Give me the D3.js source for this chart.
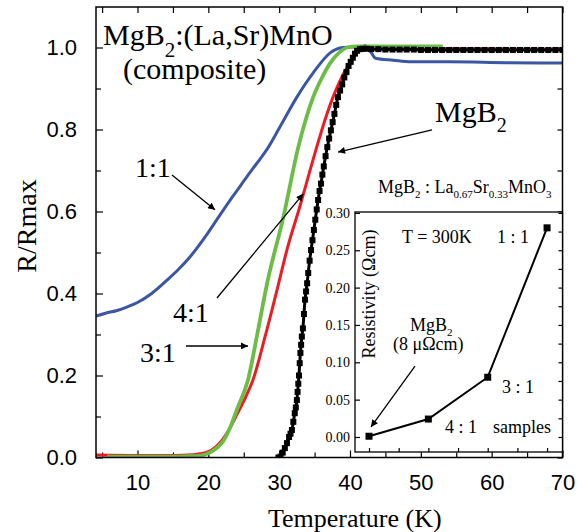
<!DOCTYPE html>
<html>
<head>
<meta charset="utf-8">
<script src="https://cdn.jsdelivr.net/npm/d3@7"></script>
<style>
body{margin:0;background:#fff}
</style>
</head>
<body>
<div id="grafico"></div>
<script>
//------------------ Datos ------------------

// 1:1 (azul)
const tempAzul = [4.14, 5.5, 7, 8.5, 10, 12, 14.2, 15.8, 17.4, 19.8, 21.2, 23.5, 25, 26.3, 27.3, 28.3, 30.1, 32.5, 34.8, 37.2, 39.0, 40.5, 41.7, 42.1, 42.9, 43.6, 46.1, 48.6, 54, 62, 70]
const rAzul    = [0.345, 0.352, 0.358, 0.367, 0.378, 0.400, 0.433, 0.459, 0.489, 0.544, 0.580, 0.638, 0.674, 0.705, 0.728, 0.752, 0.806, 0.879, 0.938, 0.987, 1.000, 1.001, 1.000, 1.005, 0.990, 0.974, 0.969, 0.965, 0.965, 0.963, 0.962]

// 4:1 (verde)
const tempVerde = [5.7, 10, 15, 18, 19.3, 20.5, 21.3, 22.1, 23.0, 24.1, 25.6, 26.9, 28.3, 30.6, 32.7, 34.8, 36.0, 37.2, 38.5, 39.6, 41, 45, 50, 53.1]
const rVerde    = [0.002, 0.002, 0.002, 0.003, 0.006, 0.015, 0.025, 0.040, 0.070, 0.120, 0.189, 0.300, 0.425, 0.587, 0.757, 0.879, 0.925, 0.962, 0.988, 1.000, 1.003, 1.003, 1.003, 1.003]

// 3:1 (rojo)
const tempRojo = [4.14, 10, 15, 18, 20, 21, 21.7, 23, 24.1, 25.2, 26.3, 28.0, 29.7, 31.2, 32.9, 35.3, 36.5, 37.6, 39.6, 41.4, 42.1, 45, 55, 70]
const rRojo    = [0.006, 0.005, 0.005, 0.007, 0.014, 0.025, 0.037, 0.070, 0.107, 0.145, 0.189, 0.294, 0.409, 0.513, 0.611, 0.757, 0.825, 0.879, 0.952, 0.994, 0.999, 0.999, 0.997, 0.996]

// MgB2 (cuadrados negros)
const tempNegro = [29.9, 30.2, 30.5, 30.8, 31.1, 31.4, 31.6, 31.8, 32.0, 32.2, 32.35, 32.5, 32.6, 32.7, 32.8, 32.9, 33.0, 33.1, 33.2, 33.35, 33.5, 33.65, 33.8, 33.95, 34.1, 34.3, 34.5, 34.7, 34.9, 35.1, 35.3, 35.5, 35.7, 35.9, 36.1, 36.3, 36.55, 36.8, 37.05, 37.3, 37.55, 37.8, 38.05, 38.3, 38.6, 38.9, 39.2, 39.5, 39.8, 40.1, 40.4, 40.7, 41.0, 41.4, 41.8, 42.3, 43, 44, 45, 46, 47, 48, 49, 50, 51, 52, 53, 54, 55, 56, 57, 58, 59, 60, 61, 62, 63, 64, 65, 66, 67, 68, 69, 70]
const rNegro    = [0.000, 0.002, 0.012, 0.023, 0.035, 0.050, 0.058, 0.067, 0.087, 0.108, 0.122, 0.140, 0.160, 0.180, 0.200, 0.230, 0.255, 0.275, 0.295, 0.315, 0.350, 0.385, 0.405, 0.425, 0.450, 0.480, 0.506, 0.530, 0.555, 0.580, 0.605, 0.628, 0.650, 0.668, 0.690, 0.710, 0.735, 0.757, 0.778, 0.798, 0.818, 0.838, 0.860, 0.879, 0.895, 0.910, 0.927, 0.940, 0.955, 0.965, 0.975, 0.985, 0.992, 0.996, 0.997, 0.997, 0.996, 0.996, 0.995, 0.995, 0.995, 0.995, 0.995, 0.994, 0.994, 0.994, 0.994, 0.994, 0.994, 0.994, 0.994, 0.994, 0.994, 0.994, 0.994, 0.994, 0.994, 0.994, 0.994, 0.994, 0.994, 0.994, 0.994, 0.994]

// Recuadro: resistividad a 300 K
const muestrasIdx = [1, 2, 3, 4]
const resistividad = [0.001, 0.024, 0.080, 0.280]

const ticksX = [10, 20, 30, 40, 50, 60, 70]
const ticksXmenor = [5, 15, 25, 35, 45, 55, 65]
const ticksY = [0, 0.2, 0.4, 0.6, 0.8, 1.0]
const ticksYmenor = [0.1, 0.3, 0.5, 0.7, 0.9]
const ticksRecY = [0, 0.05, 0.10, 0.15, 0.20, 0.25, 0.30]

//------------------------------------------------------------------

const serif = "'Liberation Serif', 'Times New Roman', serif"
const sans = "'Liberation Sans', Arial, sans-serif"

const W = 583, H = 532
const m = {left: 96, right: 562.5, top: 7, bottom: 457.5}

const svg = d3.select("#grafico").append("svg")
    .attr("width", W).attr("height", H)

svg.append("defs").append("marker")
    .attr("id", "flecha")
    .attr("viewBox", "0 0 10 10")
    .attr("refX", 10).attr("refY", 5)
    .attr("markerUnits", "userSpaceOnUse")
    .attr("markerWidth", 10).attr("markerHeight", 7)
    .attr("orient", "auto")
    .append("path").attr("d", "M0,0 L10,5 L0,10 z").attr("fill", "#000")

svg.select("defs").append("clipPath").attr("id", "recorte")
    .append("rect").attr("x", m.left).attr("y", m.top)
    .attr("width", m.right - m.left).attr("height", m.bottom - m.top)

const x = d3.scaleLinear().domain([4.14, 70]).range([m.left, m.right])
const y = d3.scaleLinear().domain([0, 1.0988]).range([m.bottom, m.top])

function serie(ts, rs){
    return ts.map((t, i) => ({t: t, r: rs[i]}))
}

const linea = d3.line().x(d => x(d.t)).y(d => y(d.r)).curve(d3.curveMonotoneX)

// ejes principales (ticks hacia dentro)
function estiloEje(g, size, fam){
    g.select(".domain").remove()
    g.selectAll("line").attr("stroke", "#000").attr("stroke-width", 1.2)
    g.attr("font-size", size).attr("font-family", fam)
    g.selectAll("text").attr("fill", "#000")
}

svg.append("g").attr("transform", `translate(0,${m.bottom})`)
    .call(d3.axisBottom(x).tickValues(ticksX).tickSize(-7).tickPadding(17).tickFormat(d3.format("d")))
    .call(g => estiloEje(g, 22, sans))
svg.append("g").attr("transform", `translate(0,${m.bottom})`)
    .call(d3.axisBottom(x).tickValues(ticksXmenor).tickSize(-5).tickFormat(""))
    .call(g => estiloEje(g, 10, sans))
svg.append("g").attr("transform", `translate(0,${m.top})`)
    .call(d3.axisTop(x).tickValues(ticksXmenor.concat(ticksX)).tickSize(-6).tickFormat(""))
    .call(g => estiloEje(g, 10, sans))
svg.append("g").attr("transform", `translate(${m.left},0)`)
    .call(d3.axisLeft(y).tickValues(ticksY).tickSize(-7).tickPadding(19).tickFormat(d3.format(".1f")))
    .call(g => estiloEje(g, 22, sans))
svg.append("g").attr("transform", `translate(${m.left},0)`)
    .call(d3.axisLeft(y).tickValues(ticksYmenor).tickSize(-5).tickFormat(""))
    .call(g => estiloEje(g, 10, sans))
svg.append("g").attr("transform", `translate(${m.right},0)`)
    .call(d3.axisRight(y).tickValues(ticksY.concat(ticksYmenor)).tickSize(-5).tickFormat(""))
    .call(g => estiloEje(g, 10, sans))

// curvas
const curvas = svg.append("g").attr("clip-path", "url(#recorte)")

curvas.append("path").datum(serie(tempAzul, rAzul))
    .attr("d", linea).attr("fill", "none").attr("stroke", "#3c56a6").attr("stroke-width", 3)
curvas.append("path").datum(serie(tempRojo, rRojo))
    .attr("d", linea).attr("fill", "none").attr("stroke", "#ed1c24").attr("stroke-width", 3)
curvas.append("path").datum(serie(tempVerde, rVerde))
    .attr("d", linea).attr("fill", "none").attr("stroke", "#6cbd45").attr("stroke-width", 3.8)

const negro = serie(tempNegro, rNegro)
curvas.append("path").datum(negro)
    .attr("d", linea).attr("fill", "none").attr("stroke", "#000").attr("stroke-width", 3)
curvas.selectAll("rect.cuadro").data(negro).enter()
    .append("rect").attr("class", "cuadro")
    .attr("x", d => x(d.t) - 3).attr("y", d => y(d.r) - 3)
    .attr("width", 6).attr("height", 6).attr("fill", "#000")

// marco
svg.append("rect").attr("x", m.left).attr("y", m.top)
    .attr("width", m.right - m.left).attr("height", m.bottom - m.top)
    .attr("fill", "none").attr("stroke", "#000").attr("stroke-width", 1.5)

// textos y flechas del grafico principal
function texto(tx, ty, size, partes){
    const t = svg.append("text").attr("x", tx).attr("y", ty)
        .attr("font-family", serif).attr("font-size", size).attr("fill", "#000")
    partes.forEach(p => {
        const s = t.append("tspan").text(p[0])
        if (p[1]) s.attr("dy", p[1])
        if (p[2]) s.attr("font-size", p[2])
    })
    return t
}
function flecha(x1, y1, x2, y2){
    svg.append("line").attr("x1", x1).attr("y1", y1).attr("x2", x2).attr("y2", y2)
        .attr("stroke", "#000").attr("stroke-width", 1.3).attr("marker-end", "url(#flecha)")
}

texto(x(5.13), y(1.006), 30, [["MgB"], ["2", 12, 21], [":(La,Sr)MnO", -12]])
texto(x(7.95), y(0.923), 30, [["(composite)"]])
texto(x(52.0), y(0.818), 30, [["MgB"], ["2", 10, 20]])
flecha(x(51.58), y(0.799), x(38.31), y(0.745))
texto(x(9.65), y(0.684), 28, [["1:1"]])
flecha(x(14.87), y(0.689), x(20.94), y(0.604))
texto(x(15.01), y(0.330), 28, [["4:1"]])
flecha(x(21.22), y(0.389), x(33.4), y(0.643))
texto(x(10.35), y(0.233), 28, [["3:1"]])
flecha(x(16.85), y(0.272), x(25.6), y(0.272))

svg.append("text").attr("x", 268).attr("y", 527)
    .attr("font-family", serif).attr("font-size", 26).text("Temperature (K)")
svg.append("text").attr("transform", "translate(36,226) rotate(-90)")
    .attr("text-anchor", "middle")
    .attr("font-family", serif).attr("font-size", 28).text("R/Rmax")

//------------------ Recuadro ------------------
const rec = {left: 355, right: 562.5, top: 212, bottom: 452}
const ix = d3.scaleLinear().domain([0.764, 4.26]).range([rec.left, rec.right])
const iy = d3.scaleLinear().domain([-0.0201, 0.3012]).range([rec.bottom, rec.top])

svg.append("rect").attr("x", rec.left).attr("y", rec.top)
    .attr("width", rec.right - rec.left).attr("height", rec.bottom - rec.top)
    .attr("fill", "#fff").attr("stroke", "#000").attr("stroke-width", 1.3)

svg.append("g").attr("transform", `translate(${rec.left},0)`)
    .call(d3.axisLeft(iy).tickValues(ticksRecY).tickSize(-5).tickPadding(5).tickFormat(d3.format(".2f")))
    .call(g => estiloEje(g, 14, serif))
svg.append("g").attr("transform", `translate(${rec.right},0)`)
    .call(d3.axisRight(iy).tickValues(d3.range(0, 0.301, 0.025)).tickSize(-4).tickFormat(""))
    .call(g => estiloEje(g, 10, serif))
svg.append("g").attr("transform", `translate(0,${rec.bottom})`)
    .call(d3.axisBottom(ix).tickValues(d3.range(1, 4.01, 0.5)).tickSize(-4).tickFormat(""))
    .call(g => estiloEje(g, 10, serif))

const puntos = muestrasIdx.map((s, i) => ({s: s, v: resistividad[i]}))
svg.append("path").datum(puntos)
    .attr("d", d3.line().x(d => ix(d.s)).y(d => iy(d.v)))
    .attr("fill", "none").attr("stroke", "#000").attr("stroke-width", 2)
svg.selectAll("rect.punto").data(puntos).enter()
    .append("rect").attr("class", "punto")
    .attr("x", d => ix(d.s) - 3.5).attr("y", d => iy(d.v) - 3.5)
    .attr("width", 7).attr("height", 7).attr("fill", "#000")

texto(378, 193, 18, [["MgB"], ["2", 5, 11], [" : La", -5], ["0.67", 5, 11], ["Sr", -5], ["0.33", 5, 11], ["MnO", -5], ["3", 5, 11]])
texto(ix(1.556), iy(0.2595), 18, [["T = 300K"]])
texto(ix(3.157), iy(0.2595), 18, [["1 : 1"]])
texto(ix(3.242), iy(0.0589), 18, [["3 : 1"]])
texto(ix(2.281), iy(0.0054), 18, [["4 : 1"]])
texto(ix(3.09), iy(0.0054), 18, [["samples"]])
texto(ix(1.691), iy(0.1420), 18, [["MgB"], ["2", 5, 11]])
texto(ix(1.405), iy(0.117), 18, [["(8 μΩcm)"]])
flecha(ix(1.775), iy(0.095), ix(1.034), iy(0.0134))

svg.append("text").attr("transform", "translate(375,294) rotate(-90)")
    .attr("text-anchor", "middle")
    .attr("font-family", serif).attr("font-size", 18).text("Resistivity (Ωcm)")
</script>
</body>
</html>
